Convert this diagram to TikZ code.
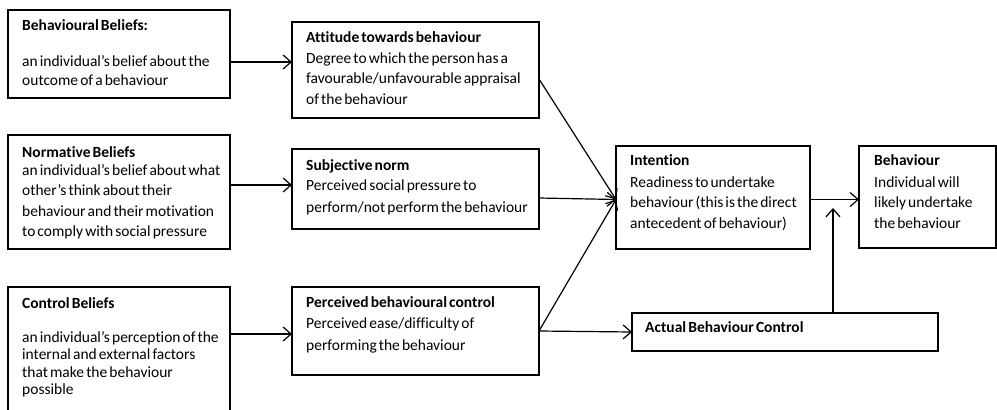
\documentclass[tikz,border=0pt]{standalone}
\usepackage{fontspec}
\setmainfont[Ligatures=NoCommon,WordSpace=0.6]{Carlito}
\usetikzlibrary{arrows.meta}
\newcommand\bodytext[2]{\parbox[t]{240pt}{\fontsize{15.5}{#1}\selectfont #2}}
\begin{document}
\begin{tikzpicture}[x=1pt,y=-1pt,
  font=\fontsize{15.5}{20}\selectfont,
  box/.style={draw, line width=1.2pt, rectangle, anchor=north west, inner sep=0pt, outer sep=0pt},
  head/.style={anchor=base west, inner sep=0pt, font=\fontsize{15.5}{20}\selectfont\bfseries},
  body/.style={anchor=base west, inner sep=0pt},
  conn/.style={line width=1.2pt},
  arr/.style={line width=1.2pt, -{Straight Barb[length=8pt,width=14pt,line width=1.2pt]}}]
\clip (0,0) rectangle (997,410);
\fill[white] (0,0) rectangle (997,410);

% boxes
\node[box, minimum width=222pt, minimum height=88pt] (bb) at (8,10) {};
\node[box, minimum width=247pt, minimum height=96pt] (att) at (292,22) {};
\node[box, minimum width=222pt, minimum height=114pt] (nb) at (8,135) {};
\node[box, minimum width=247pt, minimum height=80pt] (sn) at (292,149) {};
\node[box, minimum width=222pt, minimum height=140pt] (cb) at (8,287) {};
\node[box, minimum width=247pt, minimum height=88pt] (pbc) at (292,287) {};
\node[box, minimum width=194pt, minimum height=103pt] (int) at (616,146) {};
\node[box, minimum width=137pt, minimum height=102pt] (beh) at (859,146) {};
\node[box, minimum width=306pt, minimum height=38pt] (abc) at (632,313) {};

% texts
\node[head] (bbh) at (22,30) {Behavioural Beliefs:};
\node[body] (bbt) at (22,66) {\bodytext{19.5}{an individual’s belief about the\\outcome of a behaviour}};

\node[head] (atth) at (306,42) {Attitude towards behaviour};
\node[body] (attt) at (306,63) {\bodytext{20.7}{Degree to which the person has a\\favourable/unfavourable appraisal\\of the behaviour}};

\node[head] (nbh) at (22,157) {Normative Beliefs};
\node[body] (nbt) at (22,175) {\bodytext{20.5}{an individual’s belief about what\\other’s think about their\\behaviour and their motivation\\to comply with social pressure}};

\node[head] (snh) at (306,170) {Subjective norm};
\node[body] (snt) at (306,190) {\bodytext{22}{Perceived social pressure to\\perform/not perform the behaviour}};

\node[head] (cbh) at (22,308) {Control Beliefs};
\node[body] (cbt) at (22,342) {\bodytext{17.5}{an individual’s perception of the\\internal and external factors\\that make the behaviour\\possible}};

\node[head] (pbch) at (306,307) {Perceived behavioural control};
\node[body] (pbct) at (306,328) {\bodytext{22}{Perceived ease/difficulty of\\performing the behaviour}};

\node[head] (inth) at (630,165) {Intention};
\node[body] (intt) at (630,187) {\bodytext{20.5}{Readiness to undertake\\behaviour (this is the direct\\antecedent of behaviour)}};

\node[head] (behh) at (874,165) {Behaviour};
\node[body] (beht) at (874,187) {\bodytext{20.5}{Individual will\\likely undertake\\the behaviour}};

\node[head] (abch) at (645,332) {Actual Behaviour Control};

% connectors
\coordinate (meet) at ([yshift=-2pt]int.west);
\coordinate (vtip) at (833,208);
\draw[arr] ([yshift=-8pt]bb.east) -- ([yshift=-8pt]bb.east -| att.west);
\draw[arr] ([yshift=7pt]nb.east) -- ([yshift=7pt]nb.east -| sn.west);
\draw[arr] ([yshift=-3pt]cb.east |- pbc.west) -- ([yshift=-3pt]pbc.west);
\draw[arr] ([yshift=-9pt]att.east) -- (meet);
\draw[arr] ([yshift=-9pt]sn.east) -- (meet);
\draw[arr] (pbc.east) -- (meet);
\draw[arr] (pbc.east) -- (abc.west);
\draw[arr] ([yshift=-2pt]int.east) -- ([yshift=-2pt]int.east -| beh.west);
\draw[arr] (abc.north -| vtip) -- (vtip);
\end{tikzpicture}
\end{document}
